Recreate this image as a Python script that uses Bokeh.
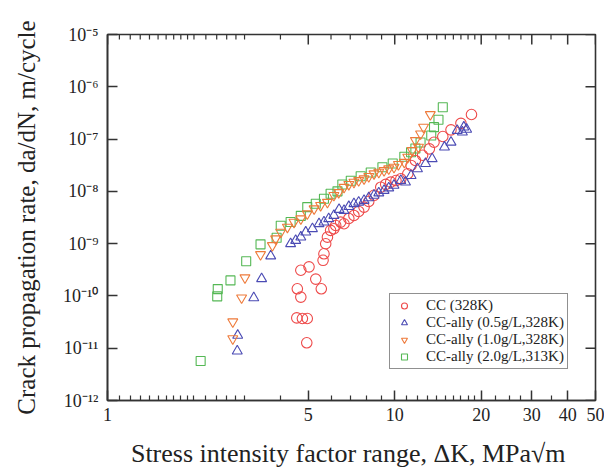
from bokeh.plotting import figure
from bokeh.models import FixedTicker, Range1d, Legend, LegendItem, PrintfTickFormatter
from bokeh.embed import file_html
from bokeh.resources import INLINE

# ---- data ----
cc_dk = [4.56, 4.58, 4.71, 4.71, 4.77, 4.94, 4.96, 5.03, 5.31, 5.55,
         5.63, 5.67, 5.75, 5.83, 5.98, 6.14, 6.23, 6.48, 6.66, 6.92,
         7.21, 7.49, 7.82, 8.12, 8.47, 8.94, 9.30, 9.68, 10.1, 10.5,
         11.1, 11.4, 11.8, 12.5, 13.2, 13.7, 14.7, 15.7, 17.0, 18.5]
cc_rate = [3.8e-11, 1.37e-10, 3.1e-10, 9.5e-11, 3.7e-11, 1.27e-11, 3.7e-11, 3.6e-10, 2.1e-10, 1.37e-10,
           4.8e-10, 6.4e-10, 9.95e-10, 1.33e-9, 1.79e-9, 1.93e-9, 2.23e-9, 2.58e-9, 2.4e-9, 3.03e-9,
           3.46e-9, 4.13e-9, 4.99e-9, 6.4e-9, 8.4e-9, 1.2e-8, 1.36e-8, 1.5e-8, 1.61e-8, 1.74e-8,
           2.17e-8, 3.13e-8, 3.9e-8, 4.9e-8, 6.5e-8, 8.7e-8, 1.12e-7, 1.5e-7, 2.0e-7, 2.95e-7]

a05_dk = [2.83, 2.84, 3.23, 3.44, 3.70, 4.34, 4.52, 4.71, 4.90, 5.17,
          5.45, 5.67, 5.89, 6.14, 6.40, 6.66, 6.92, 7.21, 7.49, 7.82,
          8.12, 8.47, 8.80, 9.18, 9.53, 9.94, 10.5, 10.9, 11.4, 12.0,
          12.8, 13.5, 14.9, 15.7, 16.5, 17.2, 17.4, 17.8]
a05_rate = [8.8e-12, 1.76e-11, 9.2e-11, 2.13e-10, 5.8e-10, 9.95e-10, 1.15e-9, 1.33e-9, 1.66e-9, 1.93e-9,
            2.4e-9, 2.58e-9, 2.99e-9, 3.46e-9, 4.5e-9, 4.3e-9, 5.1e-9, 5.8e-9, 6.2e-9, 6.7e-9,
            7.5e-9, 8.4e-9, 9.3e-9, 1.04e-8, 1.16e-8, 1.3e-8, 1.61e-8, 1.5e-8, 2.0e-8, 2.7e-8,
            3.4e-8, 4.2e-8, 7.0e-8, 8.7e-8, 1.46e-7, 1.36e-7, 1.69e-7, 1.53e-7]

a10_dk = [2.73, 2.73, 2.93, 3.01, 3.41, 3.75, 3.85, 4.01, 4.23, 4.46,
          4.71, 4.96, 5.24, 5.52, 5.83, 6.14, 6.38, 6.66, 6.92, 7.21,
          7.49, 7.82, 8.12, 8.47, 8.80, 9.18, 9.53, 9.94, 10.3, 10.8,
          11.1, 11.5, 11.8, 12.1, 12.3, 12.6, 13.3]
a10_rate = [1.52e-11, 3.2e-11, 9.2e-11, 2.23e-10, 6.2e-10, 9.2e-10, 1.24e-9, 1.66e-9, 2.07e-9, 2.58e-9,
            2.99e-9, 3.73e-9, 4.65e-9, 5.4e-9, 6.2e-9, 8.4e-9, 9.5e-9, 1.2e-8, 1.36e-8, 1.5e-8,
            1.61e-8, 1.74e-8, 1.93e-8, 2.17e-8, 2.33e-8, 2.5e-8, 2.7e-8, 2.9e-8, 3.27e-8, 3.6e-8,
            4.5e-8, 6.05e-8, 9.4e-8, 7.0e-8, 1.26e-7, 1.69e-7, 2.95e-7]

a20_dk = [2.11, 2.41, 2.42, 2.68, 3.04, 3.41, 3.88, 4.01, 4.34, 4.71,
          4.96, 5.31, 5.67, 5.98, 6.32, 6.57, 7.03, 7.61, 8.25, 9.06,
          9.84, 10.8, 11.4, 11.8, 12.3, 13.4, 13.7, 14.2, 14.7]
a20_rate = [5.7e-12, 9.8e-11, 1.35e-10, 1.98e-10, 4.6e-10, 9.7e-10, 1.3e-9, 2.2e-9, 2.6e-9, 3.4e-9,
            5.0e-9, 5.8e-9, 7.2e-9, 9.0e-9, 1.0e-8, 1.35e-8, 1.6e-8, 1.95e-8, 2.3e-8, 2.9e-8,
            3.4e-8, 4.6e-8, 5.6e-8, 6.6e-8, 8.6e-8, 1.17e-7, 1.69e-7, 2.34e-7, 4.07e-7]

series_names = ["CC (328K)", "CC-ally (0.5g/L,328K)", "CC-ally (1.0g/L,328K)", "CC-ally (2.0g/L,313K)"]

x_major = [1, 5, 10, 20, 30, 40, 50]
x_minor = [1.1, 1.2, 1.3, 1.4, 1.5, 1.6, 1.7, 1.8, 1.9, 2, 2.2, 2.4, 2.6, 2.8, 3, 4,
           6, 7, 8, 9, 11, 12, 13, 14, 15, 16, 17, 18, 19, 22.5, 25, 27.5, 35]
y_major = [1e-12, 1e-11, 1e-10, 1e-9, 1e-8, 1e-7, 1e-6, 1e-5]
y_labels = ["10\u207b\u00b9\u00b2", "10\u207b\u00b9\u00b9", "10\u207b\u00b9\u2070", "10\u207b\u2079",
            "10\u207b\u2078", "10\u207b\u2077", "10\u207b\u2076", "10\u207b\u2075"]

FONT = "Liberation Serif"
AX = "#333333"

p = figure(width=604, height=476, x_axis_type="log", y_axis_type="log",
           x_range=Range1d(x_major[0], x_major[-1]), y_range=Range1d(y_major[0], y_major[-1]),
           output_backend="svg", toolbar_location=None,
           min_border_left=107, min_border_right=9, min_border_top=34, min_border_bottom=76)
p.xgrid.visible = False
p.ygrid.visible = False
p.outline_line_color = AX
p.outline_line_width = 1.6
p.background_fill_color = "white"
p.border_fill_color = "white"


def style(ax):
    ax.axis_line_color = AX
    ax.axis_line_width = 1.6
    ax.major_tick_line_color = AX
    ax.minor_tick_line_color = AX
    ax.major_tick_line_width = 1.5
    ax.minor_tick_line_width = 1.2
    ax.major_tick_out = 0
    ax.minor_tick_out = 0
    ax.major_tick_in = 10
    ax.minor_tick_in = 5
    ax.major_label_text_font = FONT
    ax.major_label_text_color = "#222222"
    ax.axis_label_text_font = FONT
    ax.axis_label_text_font_style = "normal"
    ax.axis_label_text_color = "#222222"


bx = p.xaxis[0]
bx.ticker = FixedTicker(ticks=x_major, minor_ticks=x_minor)
bx.formatter = PrintfTickFormatter(format="%d")
style(bx)
bx.major_label_text_font_size = "18px"
bx.major_label_standoff = 7
bx.axis_label = "Stress intensity factor range, \u0394K,  MPa\u221am"
bx.axis_label_text_font_size = "26px"
bx.axis_label_standoff = 15

ly = p.yaxis[0]
ly.ticker = FixedTicker(ticks=y_major, minor_ticks=[])
ly.major_label_overrides = {v: s for v, s in zip(y_major, y_labels)}
style(ly)
ly.major_label_text_font_size = "18px"
ly.major_label_standoff = 9
ly.axis_label = "Crack propagation rate, da/dN, m/cycle"
ly.axis_label_text_font_size = "25px"
ly.axis_label_standoff = 20

# mirrored inward ticks on the top and right frame edges
top_major_y = [y_major[-1]] * len(x_major)
top_minor_y = [y_major[-1]] * len(x_minor)
right_x = [x_major[-1]] * len(y_major)
p.ray(x=x_major, y=top_major_y, length=10, length_units="screen", angle=-90, angle_units="deg",
      line_color=AX, line_width=1.5)
p.ray(x=x_minor, y=top_minor_y, length=5, length_units="screen", angle=-90, angle_units="deg",
      line_color=AX, line_width=1.2)
p.ray(x=right_x, y=y_major, length=10, length_units="screen", angle=180, angle_units="deg",
      line_color=AX, line_width=1.5)

r4 = p.scatter(a20_dk, a20_rate, marker="square", size=9, fill_alpha=0, line_color="#55b855", line_width=1.1)
r1 = p.scatter(cc_dk, cc_rate, marker="circle", size=10.5, fill_alpha=0, line_color="#ee4a4a", line_width=1.1)
r2 = p.scatter(a05_dk, a05_rate, marker="triangle", size=10, fill_alpha=0, line_color="#4b4bb4", line_width=1.1)
r3 = p.scatter(a10_dk, a10_rate, marker="inverted_triangle", size=10, fill_alpha=0, line_color="#ee7a3a", line_width=1.1)

legend = Legend(items=[LegendItem(label=series_names[0], renderers=[r1]),
                       LegendItem(label=series_names[1], renderers=[r2]),
                       LegendItem(label=series_names[2], renderers=[r3]),
                       LegendItem(label=series_names[3], renderers=[r4])],
                location=(282, 31))
legend.label_text_font = FONT
legend.label_text_font_size = "15px"
legend.label_text_color = "#222222"
legend.label_height = 15
legend.glyph_height = 15
legend.glyph_width = 22
legend.label_standoff = 11
legend.spacing = 0
legend.padding = 3
legend.margin = 0
legend.border_line_color = "#222222"
legend.border_line_width = 1.5
legend.background_fill_alpha = 1
p.add_layout(legend, "center")

open("out.html", "w").write(file_html(p, INLINE))
